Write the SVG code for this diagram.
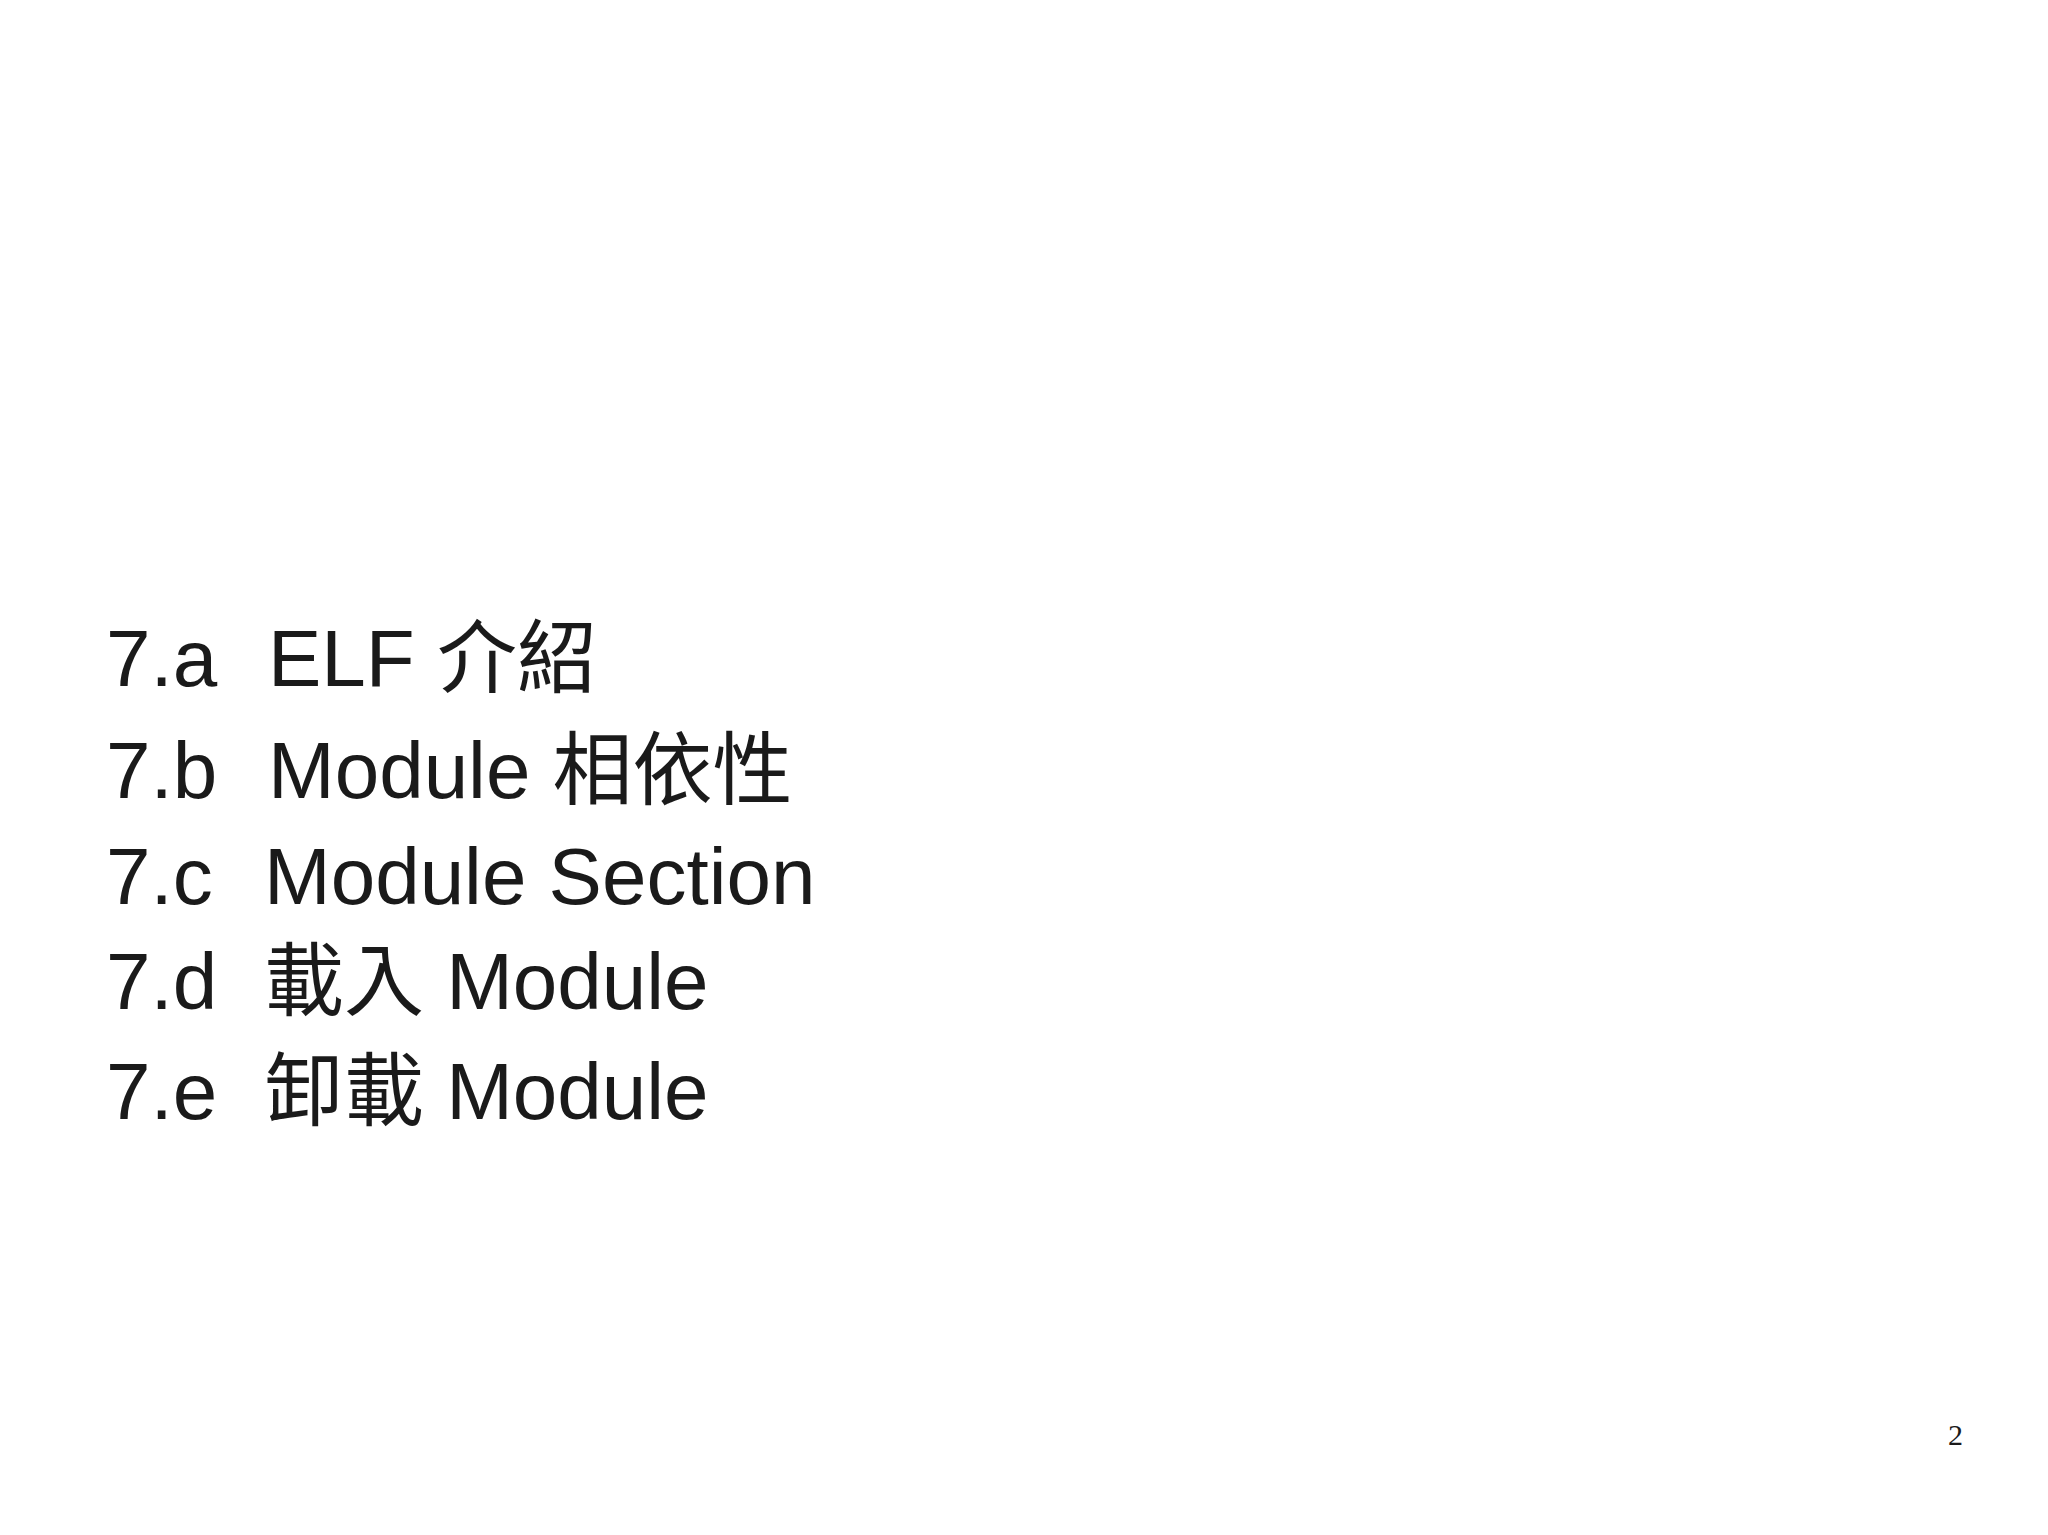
<svg xmlns="http://www.w3.org/2000/svg" width="2048" height="1535" viewBox="0 0 2048 1535">
<style>
.t{font-family:"Liberation Sans","Noto Sans CJK TC",sans-serif;font-size:80px;fill:#1a1a1a}
.p{font-family:"Liberation Serif",serif;font-size:30px;fill:#1a1a1a}
</style>
<rect width="2048" height="1535" fill="#fff"/>
<g id="toc">
<text class="t" x="106" y="686">7.a</text><text class="t" x="268" y="686">ELF 介紹</text>
<text class="t" x="106" y="798">7.b</text><text class="t" x="268" y="798">Module 相依性</text>
<text class="t" x="106" y="904">7.c</text><text class="t" x="264" y="904">Module Section</text>
<text class="t" x="106" y="1009">7.d</text><text class="t" x="264" y="1009">載入 Module</text>
<text class="t" x="106" y="1119">7.e</text><text class="t" x="264" y="1119">卸載 Module</text>
</g>
<text class="p" x="1948" y="1445">2</text>
</svg>
